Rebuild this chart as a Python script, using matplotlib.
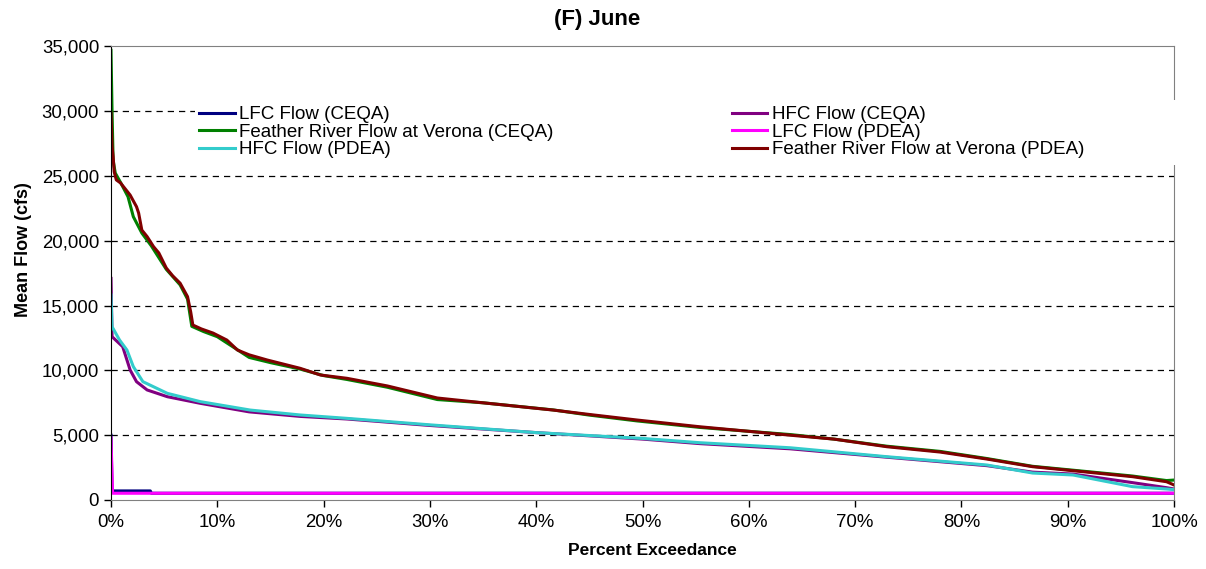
import matplotlib
matplotlib.use("Agg")
import matplotlib.pyplot as plt
from matplotlib.patches import Rectangle
from matplotlib.ticker import FuncFormatter, MultipleLocator

plt.rcParams['font.family'] = ['Liberation Sans', 'DejaVu Sans']

# percent exceedance (x) and mean flow in cfs (y)
lfc_ceqa_x = [0, 0.1, 3.7, 3.8, 100]
lfc_ceqa_y = [5000, 700, 700, 520, 520]

lfc_pdea_x = [0, 0.15, 100]
lfc_pdea_y = [4800, 520, 520]

hfc_ceqa_x = [0, 0.1, 1.1, 1.8, 2.4, 3.4, 5.3, 8.4, 13, 17.8, 22.2, 30, 40, 50,
              55.4, 63.9, 73, 82.4, 86.7, 90.5, 96.1, 99.3, 100]
hfc_ceqa_y = [17100, 12600, 11830, 10030, 9130, 8490, 7970, 7460, 6800, 6450, 6250,
              5750, 5200, 4700, 4350, 3950, 3300, 2650, 2150, 2000, 1340, 950, 850]

hfc_pdea_x = [0, 0.1, 0.8, 1.5, 2.1, 3.0, 5.3, 8.4, 13.1, 17.8, 22.2, 30, 40, 50,
              55.4, 63.9, 73, 82.4, 86.7, 90.5, 96.1, 99.3, 100]
hfc_pdea_y = [15820, 13370, 12350, 11570, 10290, 9130, 8230, 7590, 6940, 6560, 6300,
              5800, 5200, 4750, 4420, 4030, 3340, 2700, 2080, 1930, 1030, 850, 800]

fr_ceqa_x = [0, 0.1, 0.2, 0.4, 0.9, 1.6, 2.1, 2.9, 3.8, 5.2, 6.5, 7.2, 7.6, 8.7, 10,
             11.5, 13, 15, 17.8, 20, 22.2, 26, 30.7, 35, 41.6, 45, 49.5, 55.4, 60,
             63.9, 68, 73, 78, 82.4, 86.7, 90.5, 96.1, 99.3, 100]
fr_ceqa_y = [34700, 29960, 26230, 25230, 24500, 23400, 21860, 20600, 19600, 17800,
             16600, 15500, 13400, 13000, 12600, 11800, 11000, 10600, 10100, 9600, 9300,
             8700, 7750, 7500, 6950, 6550, 6100, 5600, 5300, 5050, 4700, 4150, 3750,
             3200, 2600, 2300, 1850, 1500, 1540]

fr_pdea_x = [0, 0.1, 0.2, 0.3, 0.5, 0.9, 1.8, 2.4, 2.6, 2.9, 3.4, 4.0, 4.5, 5.2, 5.8,
             6.5, 7.2, 7.5, 7.7, 8.5, 9.6, 10.9, 11.9, 13.0, 14.7, 17.8, 19.7, 22.2,
             26, 30.7, 35, 41.6, 45, 49.5, 55.4, 60, 63.9, 68, 73, 78, 82.4, 86.7,
             90.5, 96.1, 99.3, 100]
fr_pdea_y = [29860, 27260, 26490, 25330, 24700, 24460, 23530, 22630, 22140, 20830,
             20320, 19550, 19060, 17900, 17300, 16730, 15690, 14500, 13500, 13200,
             12880, 12340, 11570, 11200, 10800, 10160, 9645, 9390, 8800, 7870, 7500,
             6940, 6600, 6170, 5650, 5300, 5000, 4700, 4110, 3700, 3160, 2570, 2260,
             1800, 1410, 1160]

fig = plt.figure(figsize=(12.06, 5.69), dpi=100)
ax = fig.add_axes([111 / 1206, 69 / 569, 1063 / 1206, 453.6 / 569])

lw = 2.2
l1, = ax.plot(lfc_ceqa_x, lfc_ceqa_y, color='#000080', lw=lw, label='LFC Flow (CEQA)')
l2, = ax.plot(hfc_ceqa_x, hfc_ceqa_y, color='#800080', lw=lw, label='HFC Flow (CEQA)')
l3, = ax.plot(fr_ceqa_x, fr_ceqa_y, color='#008000', lw=lw,
              label='Feather River Flow at Verona (CEQA)')
l4, = ax.plot(lfc_pdea_x, lfc_pdea_y, color='#FF00FF', lw=lw, label='LFC Flow (PDEA)')
l5, = ax.plot(hfc_pdea_x, hfc_pdea_y, color='#33CCCC', lw=lw, label='HFC Flow (PDEA)')
l6, = ax.plot(fr_pdea_x, fr_pdea_y, color='#800000', lw=lw,
              label='Feather River Flow at Verona (PDEA)')

ax.set_xlim(0, 100)
ax.set_ylim(0, 35000)
ax.xaxis.set_major_locator(MultipleLocator(10))
ax.yaxis.set_major_locator(MultipleLocator(5000))
ax.xaxis.set_major_formatter(FuncFormatter(lambda v, p: f"{v:.0f}%"))
ax.yaxis.set_major_formatter(FuncFormatter(lambda v, p: f"{v:,.0f}"))
ax.tick_params(labelsize=13.4, length=5, width=1, direction='out', colors='black')
ax.tick_params(axis='x', pad=5)

for gy in range(5000, 35000, 5000):
    ax.axhline(gy, color='black', lw=0.9, linestyle=(0, (5, 4)), zorder=0.5)

ax.spines['left'].set_color('black')
for s in ['top', 'right', 'bottom']:
    ax.spines[s].set_color('#808080')

ax.set_xlabel('Percent Exceedance', fontsize=12.5, fontweight='bold')
ax.set_ylabel('Mean Flow (cfs)', fontsize=13, fontweight='bold')
ax.xaxis.set_label_coords(0.509, -0.095)
ax.yaxis.set_label_coords(-0.074, 0.553)
fig.suptitle('(F) June', fontsize=16, fontweight='bold', x=0.495, y=0.985)

# white legend background that overlaps the right border
fig.patches.append(Rectangle((195 / 1206, 1 - 165 / 569), 990 / 1206, 65 / 569,
                             transform=fig.transFigure, facecolor='white',
                             edgecolor='none', zorder=2.5))
fig.legend([l1, l3, l5, l2, l4, l6],
           [h.get_label() for h in [l1, l3, l5, l2, l4, l6]],
           loc='upper left', bbox_to_anchor=(199 / 1206, 1 - 106 / 569),
           ncol=2, frameon=False, fontsize=13.5, handlelength=1.9,
           handletextpad=0.25, columnspacing=9.5, labelspacing=0.02,
           borderpad=0, borderaxespad=0).set_zorder(3)

fig.savefig('out.png', dpi=100)
